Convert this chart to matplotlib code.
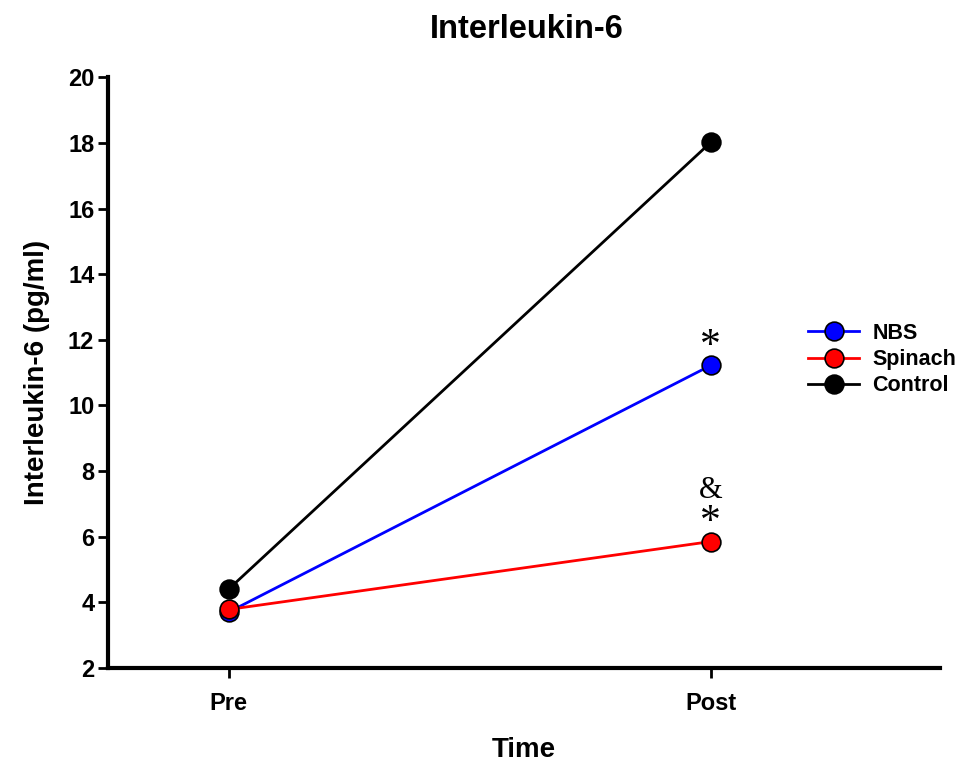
import matplotlib.pyplot as plt

plt.rcParams['font.family'] = ['Liberation Sans', 'DejaVu Sans']
plt.rcParams['font.weight'] = 'bold'

# data
times = ['Pre', 'Post']
nbs = [3.70, 11.22]
spinach = [3.78, 5.85]
control = [4.40, 18.02]

fig = plt.figure(figsize=(9.66, 7.65), dpi=100)
ax = fig.add_axes([0.112, 0.127, 0.861, 0.772])

x = [0, 1]
ax.plot(x, nbs, '-o', color='#0000ff', mfc='#0000ff', mec='black', mew=1.2, ms=13.5, lw=2, label='NBS', zorder=3)
ax.plot(x, spinach, '-o', color='#ff0000', mfc='#ff0000', mec='black', mew=1.2, ms=13.5, lw=2, label='Spinach', zorder=4)
ax.plot(x, control, '-o', color='black', mfc='black', mec='black', mew=1.2, ms=13.5, lw=2, label='Control', zorder=2)

# significance marks
serif = dict(family='Liberation Serif', fontweight='normal', ha='center', va='center')
ax.annotate('*', (1, nbs[1]), xytext=(0, 13.5), textcoords='offset points', fontsize=30, **serif)
ax.annotate('*', (1, spinach[1]), xytext=(0, 13.5), textcoords='offset points', fontsize=30, **serif)
ax.annotate('&', (1, spinach[1]), xytext=(0, 37), textcoords='offset points', fontsize=22, **serif)

ax.set_xlim(-0.25, 1.475)
ax.set_ylim(2, 20)
ax.set_xticks(x)
ax.set_xticklabels(times)
ax.set_yticks(range(2, 21, 2))

for s in ['top', 'right']:
    ax.spines[s].set_visible(False)
for s in ['left', 'bottom']:
    ax.spines[s].set_linewidth(3)
ax.tick_params(axis='both', direction='out', width=2, length=7, labelsize=17)
ax.tick_params(axis='y', pad=3)
ax.tick_params(axis='x', pad=10.5)
for lab in ax.get_xticklabels() + ax.get_yticklabels():
    lab.set_fontweight('bold')

ax.set_xlabel('Time', fontsize=20, fontweight='bold', labelpad=16)
ax.set_ylabel('Interleukin-6 (pg/ml)', fontsize=20, fontweight='bold', labelpad=13)
fig.text(0.545, 0.961, 'Interleukin-6', ha='center', va='center', fontsize=23.5, fontweight='bold')

leg = fig.legend(loc='center left', bbox_to_anchor=(0.825, 0.53), frameon=False, fontsize=15.5,
                 handlelength=2.4, handletextpad=0.6, labelspacing=0.25, borderpad=0)
for t in leg.get_texts():
    t.set_fontweight('bold')

fig.savefig('out.png', dpi=100)
